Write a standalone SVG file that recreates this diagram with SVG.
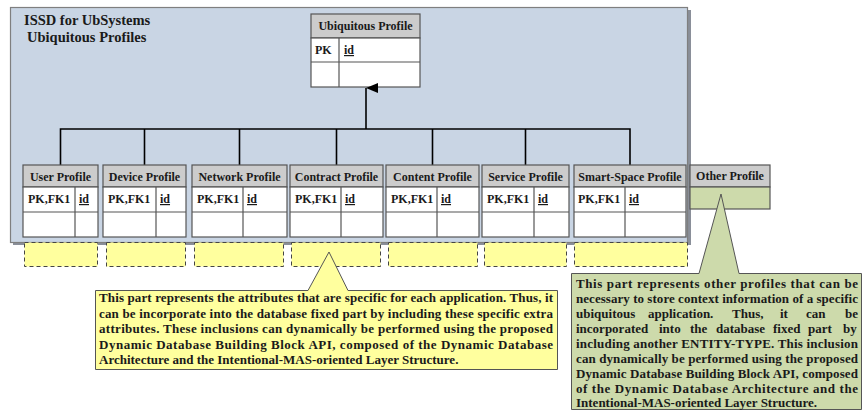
<svg xmlns="http://www.w3.org/2000/svg" width="864" height="410" viewBox="0 0 864 410">
  <defs>
    <style>
      text { font-family: 'Liberation Serif', 'Times New Roman', serif; font-weight: bold; fill: #1a1a1a; }
      .title { font-size: 14.5px; }
      .hd { font-size: 12px; text-anchor: middle; }
      .cell { font-size: 12px; }
      .u { text-decoration: underline; }
      .note { font-size: 13px; }
      .frame { fill: #c9d5e4; stroke: #7f7f7f; stroke-width: 1.2; }
      .head { fill: #cccccc; stroke: #555; stroke-width: 1.2; }
      .body { fill: #ffffff; stroke: #555; stroke-width: 1.2; }
      .line { stroke: #555; stroke-width: 1.2; fill: none; }
      .ext { fill: #ffff9e; stroke: #444; stroke-width: 1; stroke-dasharray: 4 3; }
      .conn { stroke: #000; stroke-width: 1.6; fill: none; }
      .callY { fill: #ffff9e; stroke: #555; stroke-width: 1; }
      .callG { fill: #cddaab; stroke: #555; stroke-width: 1; }
      .green { fill: #cddaab; stroke: #555; stroke-width: 1.2; }
      .shadow { fill: #8a8f99; }
    </style>
    <marker id="tri" viewBox="0 0 10 12" refX="5" refY="0" markerWidth="10" markerHeight="12" markerUnits="userSpaceOnUse" orient="auto-start-reverse">
      <path d="M0,12 L5,0 L10,12 Z" fill="#000"/>
    </marker>
  </defs>

  <!-- package frame -->
  <g id="frame">
    <rect class="shadow" x="13" y="10" width="678" height="235"/>
    <rect class="frame" x="10.5" y="7.5" width="677" height="235"/>
    <text class="title" x="24" y="25">ISSD for UbSystems</text>
    <text class="title" x="27" y="42">Ubiquitous Profiles</text>
  </g>

  <!-- parent entity -->
  <g id="ubiquitous-profile">
    <rect class="head" x="311" y="14" width="109" height="24"/>
    <rect class="body" x="311" y="38" width="109" height="49"/>
    <line class="line" x1="311" y1="62" x2="420" y2="62"/>
    <line class="line" x1="339" y1="38" x2="339" y2="87"/>
    <text class="hd" x="365.5" y="30">Ubiquitous Profile</text>
    <text class="cell" x="315" y="54">PK</text>
    <text class="cell u" x="344" y="54">id</text>
  </g>

  <!-- generalisation connectors -->
  <g id="connectors">
    <path class="conn" d="M60.5,165 V129 H630 V165 M144.5,129 V165 M239.5,129 V165 M336.5,129 V165 M432.5,129 V165 M525.5,129 V165"/>
    <line class="conn" x1="366" y1="129" x2="366" y2="88" marker-end="url(#tri)"/>
  </g>

  <!-- child entities -->
  <g id="user-profile">
    <rect class="head" x="23" y="165" width="75" height="22"/>
    <rect class="body" x="23" y="187" width="75" height="50"/>
    <line class="line" x1="23" y1="212" x2="98" y2="212"/>
    <line class="line" x1="75" y1="187" x2="75" y2="237"/>
    <text class="hd" x="60.5" y="181">User Profile</text>
    <text class="cell" x="28" y="203">PK,FK1</text>
    <text class="cell u" x="79" y="203">id</text>
    <rect class="ext" x="24.5" y="242.5" width="73" height="24"/>
  </g>

  <g id="device-profile">
    <rect class="head" x="103" y="165" width="83" height="22"/>
    <rect class="body" x="103" y="187" width="83" height="50"/>
    <line class="line" x1="103" y1="212" x2="186" y2="212"/>
    <line class="line" x1="156" y1="187" x2="156" y2="237"/>
    <text class="hd" x="144.5" y="181">Device Profile</text>
    <text class="cell" x="108" y="203">PK,FK1</text>
    <text class="cell u" x="160" y="203">id</text>
    <rect class="ext" x="106.5" y="242.5" width="79" height="24"/>
  </g>

  <g id="network-profile">
    <rect class="head" x="192" y="165" width="95" height="22"/>
    <rect class="body" x="192" y="187" width="95" height="50"/>
    <line class="line" x1="192" y1="212" x2="287" y2="212"/>
    <line class="line" x1="243" y1="187" x2="243" y2="237"/>
    <text class="hd" x="239.5" y="181">Network Profile</text>
    <text class="cell" x="197" y="203">PK,FK1</text>
    <text class="cell u" x="247" y="203">id</text>
    <rect class="ext" x="194.5" y="242.5" width="89" height="24"/>
  </g>

  <g id="contract-profile">
    <rect class="head" x="290" y="165" width="93" height="22"/>
    <rect class="body" x="290" y="187" width="93" height="50"/>
    <line class="line" x1="290" y1="212" x2="383" y2="212"/>
    <line class="line" x1="341" y1="187" x2="341" y2="237"/>
    <text class="hd" x="336.5" y="181">Contract Profile</text>
    <text class="cell" x="295" y="203">PK,FK1</text>
    <text class="cell u" x="345" y="203">id</text>
    <rect class="ext" x="291.5" y="242.5" width="89" height="24"/>
  </g>

  <g id="content-profile">
    <rect class="head" x="386" y="165" width="93" height="22"/>
    <rect class="body" x="386" y="187" width="93" height="50"/>
    <line class="line" x1="386" y1="212" x2="479" y2="212"/>
    <line class="line" x1="437" y1="187" x2="437" y2="237"/>
    <text class="hd" x="432.5" y="181">Content Profile</text>
    <text class="cell" x="391" y="203">PK,FK1</text>
    <text class="cell u" x="441" y="203">id</text>
    <rect class="ext" x="388.5" y="242.5" width="89" height="24"/>
  </g>

  <g id="service-profile">
    <rect class="head" x="482" y="165" width="87" height="22"/>
    <rect class="body" x="482" y="187" width="87" height="50"/>
    <line class="line" x1="482" y1="212" x2="569" y2="212"/>
    <line class="line" x1="534" y1="187" x2="534" y2="237"/>
    <text class="hd" x="525.5" y="181">Service Profile</text>
    <text class="cell" x="487" y="203">PK,FK1</text>
    <text class="cell u" x="538" y="203">id</text>
    <rect class="ext" x="484.5" y="242.5" width="82" height="24"/>
  </g>

  <g id="smart-space-profile">
    <rect class="head" x="574" y="165" width="112" height="22"/>
    <rect class="body" x="574" y="187" width="112" height="50"/>
    <line class="line" x1="574" y1="212" x2="686" y2="212"/>
    <line class="line" x1="625" y1="187" x2="625" y2="237"/>
    <text class="hd" x="630" y="181">Smart-Space Profile</text>
    <text class="cell" x="578" y="203">PK,FK1</text>
    <text class="cell u" x="629" y="203">id</text>
    <rect class="ext" x="574.5" y="242.5" width="113" height="24"/>
  </g>

  <g id="other-profile">
    <rect class="head" x="690" y="165" width="80" height="22"/>
    <rect class="green" x="690" y="187" width="80" height="22"/>
    <text class="hd" x="730" y="180">Other Profile</text>
  </g>

  <!-- note on the extra attributes -->
  <g id="note-attributes">
    <path class="callY" d="M95.5,290.5 H308 L329,252 L348,290.5 H557.5 V369.5 H95.5 Z"/>
    <text class="note" x="99" y="302" textLength="454" lengthAdjust="spacing">This part represents the attributes that are specific for each application. Thus, it</text>
    <text class="note" x="99" y="317.5" textLength="454" lengthAdjust="spacing">can be incorporate into the database fixed part by including these specific extra</text>
    <text class="note" x="99" y="333" textLength="454" lengthAdjust="spacing">attributes. These inclusions can dynamically be performed using the proposed</text>
    <text class="note" x="99" y="348.5" textLength="454" lengthAdjust="spacing">Dynamic Database Building Block API, composed of the Dynamic Database</text>
    <text class="note" x="99" y="364">Architecture and the Intentional-MAS-oriented Layer Structure.</text>
  </g>

  <!-- note on other profiles -->
  <g id="note-other">
    <path class="callG" d="M571.5,273.5 H699 L721,194 L739,273.5 H861.5 V409.5 H571.5 Z"/>
    <text class="note" x="576" y="288" textLength="282" lengthAdjust="spacing">This part represents other profiles that can be</text>
    <text class="note" x="576" y="303" textLength="282" lengthAdjust="spacing">necessary to store context information of a specific</text>
    <text class="note" y="318"><tspan x="576">ubiquitous</tspan><tspan x="648">application.</tspan><tspan x="732">Thus,</tspan><tspan x="780">it</tspan><tspan x="806">can</tspan><tspan x="845">be</tspan></text>
    <text class="note" y="333"><tspan x="576">incorporated</tspan><tspan x="659">into</tspan><tspan x="690">the</tspan><tspan x="716">database</tspan><tspan x="773">fixed</tspan><tspan x="808">part</tspan><tspan x="843">by</tspan></text>
    <text class="note" x="576" y="348" textLength="282" lengthAdjust="spacing">including another ENTITY-TYPE. This inclusion</text>
    <text class="note" x="576" y="363" textLength="282" lengthAdjust="spacing">can dynamically be performed using the proposed</text>
    <text class="note" x="576" y="378" textLength="282" lengthAdjust="spacing">Dynamic Database Building Block API, composed</text>
    <text class="note" x="576" y="393" textLength="282" lengthAdjust="spacing">of the Dynamic Database Architecture and the</text>
    <text class="note" x="576" y="407">Intentional-MAS-oriented Layer Structure.</text>
  </g>
</svg>
